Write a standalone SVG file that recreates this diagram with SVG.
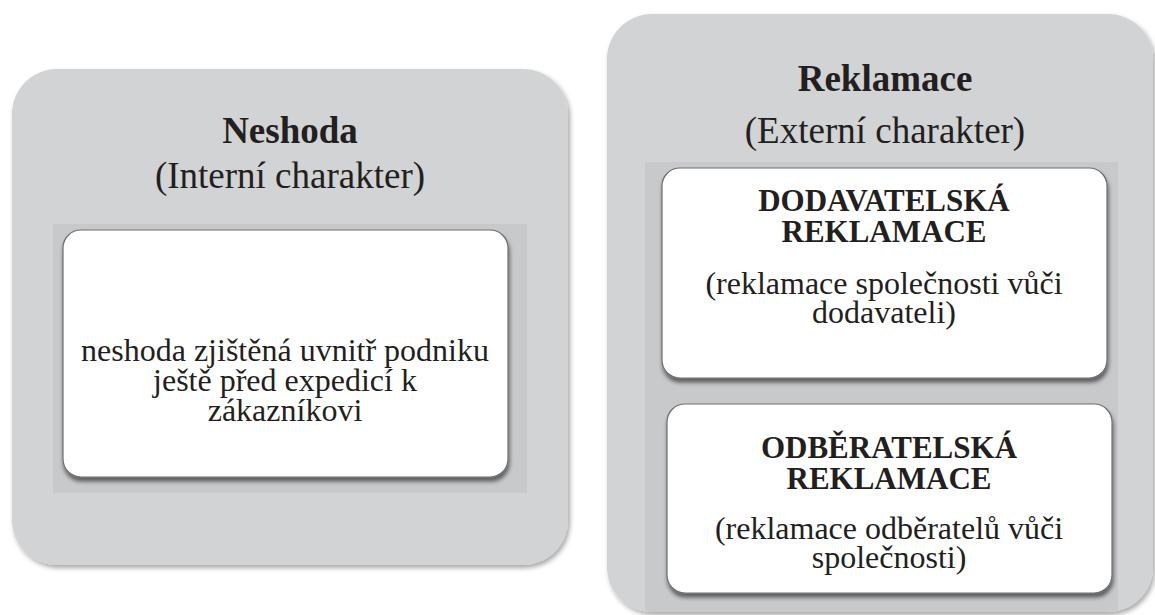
<svg xmlns="http://www.w3.org/2000/svg" width="1155" height="615" viewBox="0 0 1155 615">
  <defs>
    <filter id="outerShadow" x="-5%" y="-5%" width="115%" height="115%">
      <feGaussianBlur in="SourceAlpha" stdDeviation="2.5"/>
      <feOffset dx="2" dy="3" result="b"/>
      <feComponentTransfer><feFuncA type="linear" slope="0.35"/></feComponentTransfer>
      <feMerge><feMergeNode/><feMergeNode in="SourceGraphic"/></feMerge>
    </filter>
    <filter id="cardShadow" x="-5%" y="-5%" width="115%" height="120%">
      <feGaussianBlur in="SourceAlpha" stdDeviation="2"/>
      <feOffset dx="1" dy="4" result="b"/>
      <feComponentTransfer><feFuncA type="linear" slope="0.55"/></feComponentTransfer>
      <feMerge><feMergeNode/><feMergeNode in="SourceGraphic"/></feMerge>
    </filter>
    <clipPath id="rightClip">
      <rect x="607" y="14" width="546" height="598" rx="45" ry="45"/>
    </clipPath>
  </defs>
  <style>
    .outer { fill: #d1d3d4; }
    .band { fill: #c8c9cb; }
    .card { fill: #ffffff; stroke: #6d6e71; stroke-width: 1.2; }
    text { font-family: "Liberation Serif", "Times New Roman", serif; fill: #231f20; text-anchor: middle; }
    .title { font-size: 37px; font-weight: bold; }
    .sub { font-size: 37px; }
    .head { font-size: 31px; font-weight: bold; }
    .body { font-size: 32px; }
  </style>

  <g id="connectors"/>

  <!-- Internal nonconformity -->
  <g id="neshoda">
    <rect class="outer" x="12" y="69" width="556" height="496" rx="45" ry="45" filter="url(#outerShadow)"/>
    <text class="title" x="290" y="143">Neshoda</text>
    <text class="sub" x="290" y="188">(Interní charakter)</text>
    <rect class="band" x="53" y="224" width="474" height="269"/>
    <g id="neshoda-detail">
      <rect class="card" x="63" y="230" width="445" height="247" rx="18" ry="18" filter="url(#cardShadow)"/>
      <text class="body" x="285" y="361">neshoda zjištěná uvnitř podniku</text>
      <text class="body" x="285" y="391">ještě před expedicí k</text>
      <text class="body" x="285" y="421">zákazníkovi</text>
    </g>
  </g>

  <!-- External complaints -->
  <g id="reklamace">
    <rect class="outer" x="607" y="14" width="546" height="598" rx="45" ry="45" filter="url(#outerShadow)"/>
    <text class="title" x="885" y="91">Reklamace</text>
    <text class="sub" x="885" y="143">(Externí charakter)</text>
    <rect class="band" x="645" y="162" width="473" height="450" clip-path="url(#rightClip)"/>
    <g id="dodavatelska">
      <rect class="card" x="662" y="168" width="445" height="210" rx="18" ry="18" filter="url(#cardShadow)"/>
      <text class="head" x="884" y="211">DODAVATELSKÁ</text>
      <text class="head" x="884" y="242">REKLAMACE</text>
      <text class="body" x="884" y="294">(reklamace společnosti vůči</text>
      <text class="body" x="884" y="323">dodavateli)</text>
    </g>
    <g id="odberatelska">
      <rect class="card" x="667" y="404" width="445" height="189" rx="18" ry="18" filter="url(#cardShadow)"/>
      <text class="head" x="889" y="458">ODBĚRATELSKÁ</text>
      <text class="head" x="889" y="489">REKLAMACE</text>
      <text class="body" x="889" y="539">(reklamace odběratelů vůči</text>
      <text class="body" x="889" y="568">společnosti)</text>
    </g>
  </g>
</svg>
